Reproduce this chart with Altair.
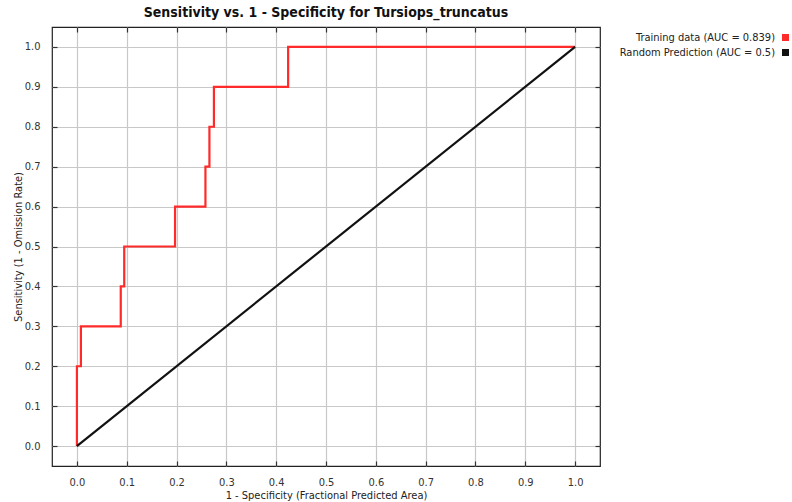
import altair as alt
import pandas as pd

# Training ROC curve (step points)
train_x = [0.0, 0.0, 0.008, 0.008, 0.088, 0.088, 0.095, 0.095, 0.197, 0.197, 0.258, 0.258, 0.266, 0.266, 0.275, 0.275, 0.424, 0.424, 1.0]
train_y = [0.0, 0.2, 0.2, 0.3, 0.3, 0.4, 0.4, 0.5, 0.5, 0.6, 0.6, 0.7, 0.7, 0.8, 0.8, 0.9, 0.9, 1.0, 1.0]
rand_x = [0.0, 1.0]
rand_y = [0.0, 1.0]
series = ["Training data (AUC = 0.839)", "Random Prediction (AUC = 0.5)"]
ticks = [round(i * 0.1, 1) for i in range(11)]

rows = []
for i, (x, y) in enumerate(zip(train_x, train_y)):
    rows.append({"x": x, "y": y, "s": series[0], "o": i})
for i, (x, y) in enumerate(zip(rand_x, rand_y)):
    rows.append({"x": x, "y": y, "s": series[1], "o": i})
df = pd.DataFrame(rows)

FONT = "DejaVu Sans Condensed, Roboto, sans-serif"
W, H = 548, 439
xs = alt.Scale(domain=[-0.05, 1.05], nice=False, zero=False)
ys = alt.Scale(domain=[-0.05, 1.05], nice=False, zero=False)

base = alt.Chart(df)

main = base.mark_line(strokeWidth=2.2, strokeJoin="miter").encode(
    x=alt.X("x:Q", scale=xs,
            axis=alt.Axis(values=ticks, format=".1f", title="1 - Specificity  (Fractional Predicted Area)",
                          ticks=False, labelPadding=10, titlePadding=2, domain=False)),
    y=alt.Y("y:Q", scale=ys,
            axis=alt.Axis(values=ticks, format=".1f", title="Sensitivity  (1 - Omission Rate)",
                          ticks=False, labelPadding=12, titlePadding=1, domain=False)),
    color=alt.Color("s:N", scale=alt.Scale(domain=series, range=["#ff2a2a", "#111111"]),
                    legend=alt.Legend(title=None, orient="none", legendX=728, legendY=5,
                                      symbolType="square", symbolSize=9, labelAlign="right",
                                      labelOffset=alt.ExprRef(expr="-16"),
                                      rowPadding=alt.ExprRef(expr="-6"),
                                      labelFontSize=11, labelColor="#222", symbolStrokeWidth=4)),
    order="o:Q",
    detail="s:N",
)

tick_axis = dict(values=ticks, labels=False, grid=False, domain=False, title=None,
                 ticks=True, tickSize=5, tickColor="#333", tickWidth=1.2)

inner1 = base.mark_line(opacity=0).encode(
    x=alt.X("x:Q", scale=xs, axis=alt.Axis(orient="top", offset=-H, **tick_axis)),
    y=alt.Y("y:Q", scale=ys, axis=alt.Axis(orient="right", offset=-W, **tick_axis)),
    detail="s:N",
)
inner2 = base.mark_line(opacity=0).encode(
    x=alt.X("x:Q", scale=xs, axis=alt.Axis(orient="bottom", offset=-H, **tick_axis)),
    y=alt.Y("y:Q", scale=ys, axis=alt.Axis(orient="left", offset=-W, **tick_axis)),
    detail="s:N",
)

chart = alt.layer(main, inner1, inner2).resolve_axis(x="independent", y="independent").properties(
    width=W, height=H,
    title=alt.TitleParams("Sensitivity vs. 1 - Specificity for Tursiops_truncatus", fontSize=14,
                          fontWeight="bold", font=FONT, color="#111", offset=6),
    autosize=alt.AutoSizeParams(type="none"),
    padding={"left": 52, "top": 27, "right": 192, "bottom": 36},
).configure_view(
    stroke="#222", strokeWidth=1.2
).configure_axis(
    gridColor="#c8c8c8", gridWidth=1.2,
    labelFont=FONT, labelFontSize=11, labelColor="#333",
    titleFont=FONT, titleFontSize=11, titleFontWeight="normal", titleColor="#222",
).configure_legend(
    labelFont=FONT
)

chart.save("out.html", embed_options={"renderer": "svg", "actions": False})
